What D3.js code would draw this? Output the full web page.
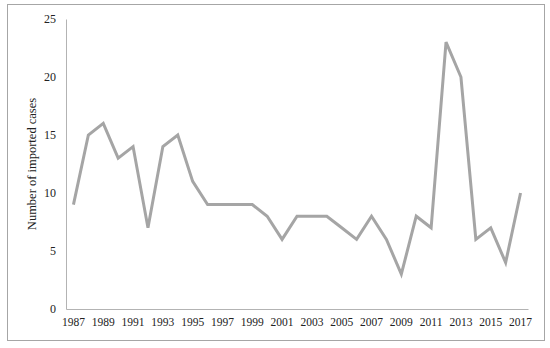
<!DOCTYPE html>
<html>
<head>
<meta charset="utf-8">
<script src="https://cdn.jsdelivr.net/npm/d3@7"></script>
<style>
  body { margin: 0; background: #fff; }
  svg text { font-family: "Liberation Serif", "DejaVu Serif", serif; fill: #222; }
</style>
</head>
<body>
<div id="chart"></div>
<script>
const years = d3.range(1987, 2018);
const cases = [9, 15, 16, 13, 14, 7, 14, 15, 11, 9, 9, 9, 9, 8, 6, 8, 8, 8, 7, 6, 8, 6, 3, 8, 7, 23, 20, 6, 7, 4, 10];
const yTicks = [0, 5, 10, 15, 20, 25];
const yLabel = 'Number of imported cases';

const width = 550, height = 348;
const margin = { top: 19, right: 22, bottom: 39, left: 66 };

const svg = d3.select('#chart')
  .append('svg')
  .attr('width', width)
  .attr('height', height);

// cadre
svg.append('rect')
  .attr('x', 7.5).attr('y', 4.5)
  .attr('width', 537).attr('height', 336)
  .attr('fill', 'none')
  .attr('stroke', '#a6a6a6')
  .attr('stroke-width', 1);

const x = d3.scaleBand()
  .domain(years)
  .range([margin.left, width - margin.right]);

const y = d3.scaleLinear()
  .domain([0, 25])
  .range([height - margin.bottom, margin.top]);

// axe X
const xAxis = svg.append('g')
  .attr('transform', `translate(0, ${height - margin.bottom})`)
  .call(d3.axisBottom(x)
    .tickValues(years.filter(d => (d - 1987) % 2 === 0))
    .tickSize(0)
    .tickPadding(9));
xAxis.select('.domain').attr('stroke', '#b3b3b3').attr('stroke-width', 1);
xAxis.selectAll('text').style('font-size', '11.5px');

// axe Y
const yAxis = svg.append('g')
  .attr('transform', `translate(${margin.left}, 0)`)
  .call(d3.axisLeft(y).tickValues(yTicks).tickSize(0).tickPadding(10));
yAxis.select('.domain').attr('stroke', '#b3b3b3').attr('stroke-width', 1);
yAxis.selectAll('text').style('font-size', '12px');

// titre Y
svg.append('text')
  .attr('transform', 'rotate(-90)')
  .attr('x', -((margin.top + height - margin.bottom) / 2))
  .attr('y', 36)
  .style('text-anchor', 'middle')
  .style('font-size', '12.5px')
  .text(yLabel);

// courbe
const line = d3.line()
  .x((d, i) => x(years[i]) + x.bandwidth() / 2)
  .y(d => y(d));

svg.append('path')
  .datum(cases)
  .attr('d', line)
  .attr('fill', 'none')
  .attr('stroke', '#a5a5a5')
  .attr('stroke-width', 3)
  .attr('stroke-linejoin', 'miter');
</script>
</body>
</html>
